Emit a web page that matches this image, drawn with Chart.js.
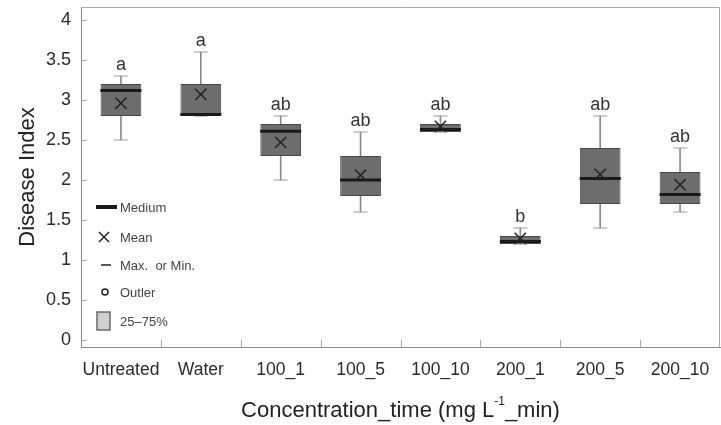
<!DOCTYPE html>
<html>
<head>
<meta charset="utf-8">
<script src="https://cdn.jsdelivr.net/npm/chart.js@4.4.1/dist/chart.umd.min.js"></script>
<style>
  html, body { margin: 0; padding: 0; background: #fff; }
  #wrap { width: 721px; height: 425px; }
</style>
</head>
<body>
<div id="wrap"><canvas id="chart" width="721" height="425"></canvas></div>
<script>
// box plot values
const categories = ['Untreated', 'Water', '100_1', '100_5', '100_10', '200_1', '200_5', '200_10'];
const maxValues    = [3.3, 3.6, 2.8, 2.6, 2.8, 1.4, 2.8, 2.4];
const q3Values     = [3.2, 3.2, 2.7, 2.3, 2.7, 1.3, 2.4, 2.1];
const medianValues = [3.12, 2.82, 2.61, 2.0, 2.63, 1.23, 2.02, 1.82];
const q1Values     = [2.8, 2.8, 2.3, 1.8, 2.6, 1.2, 1.7, 1.7];
const minValues    = [2.5, 2.8, 2.0, 1.6, 2.6, 1.2, 1.4, 1.6];
const meanValues   = [2.96, 3.07, 2.47, 2.06, 2.67, 1.27, 2.07, 1.94];
const groupLetters = ['a', 'a', 'ab', 'ab', 'ab', 'b', 'ab', 'ab'];
const yTicks = [0, 0.5, 1, 1.5, 2, 2.5, 3, 3.5, 4];

const FONT = '"Liberation Sans", Arial, sans-serif';

// frame, inner tick marks, letters, legend and x title
const decorPlugin = {
    id: 'decor',
    beforeDatasetsDraw(chart) {
        const { ctx, chartArea: a, scales } = chart;
        ctx.save();
        ctx.strokeStyle = '#a8a8a8';
        ctx.lineWidth = 1;
        ctx.beginPath();
        ctx.moveTo(a.left, a.top + 0.5);
        ctx.lineTo(a.right - 0.5, a.top + 0.5);
        ctx.lineTo(a.right - 0.5, a.bottom);
        ctx.stroke();

        // y ticks pointing inward
        ctx.beginPath();
        yTicks.forEach(v => {
            const y = Math.round(scales.y.getPixelForValue(v)) + 0.5;
            ctx.moveTo(a.left, y);
            ctx.lineTo(a.left + 6, y);
        });
        // x separators between categories
        for (let i = 0; i < categories.length - 1; i++) {
            const x = Math.round((scales.x.getPixelForValue(i) + scales.x.getPixelForValue(i + 1)) / 2) + 0.5;
            ctx.moveTo(x, a.bottom);
            ctx.lineTo(x, a.bottom - 7);
        }
        ctx.stroke();
        ctx.restore();
    },
    afterDatasetsDraw(chart) {
        const { ctx, scales } = chart;
        ctx.save();
        ctx.fillStyle = '#333';
        ctx.font = '18px ' + FONT;
        ctx.textAlign = 'center';
        ctx.textBaseline = 'alphabetic';
        groupLetters.forEach((t, i) => {
            ctx.fillText(t, scales.x.getPixelForValue(i), scales.y.getPixelForValue(maxValues[i]) - 6);
        });
        ctx.restore();
    },
    afterDraw(chart) {
        const { ctx, chartArea: a } = chart;
        ctx.save();
        // legend inside the plot
        const lx = a.left + 15, tx = a.left + 39;
        ctx.font = '13px ' + FONT;
        ctx.fillStyle = '#444';
        ctx.textBaseline = 'middle';
        ctx.textAlign = 'left';
        const rows = [207, 237, 265, 292, 321];
        ['Medium', 'Mean', 'Max.  or Min.', 'Outler', '25\u201375%'].forEach((t, i) => {
            ctx.fillText(t, tx, rows[i] + 1);
        });
        ctx.strokeStyle = '#1a1a1a';
        ctx.lineWidth = 4;
        ctx.beginPath(); ctx.moveTo(lx, rows[0]); ctx.lineTo(lx + 21, rows[0]); ctx.stroke();
        ctx.lineWidth = 1.5;
        ctx.strokeStyle = '#222';
        ctx.beginPath();
        ctx.moveTo(lx + 3, rows[1] - 5); ctx.lineTo(lx + 13, rows[1] + 5);
        ctx.moveTo(lx + 13, rows[1] - 5); ctx.lineTo(lx + 3, rows[1] + 5);
        ctx.stroke();
        ctx.lineWidth = 1.5;
        ctx.beginPath(); ctx.moveTo(lx + 5, rows[2]); ctx.lineTo(lx + 15, rows[2]); ctx.stroke();
        ctx.beginPath(); ctx.arc(lx + 9, rows[3], 3, 0, Math.PI * 2); ctx.stroke();
        ctx.fillStyle = '#cfcfcf';
        ctx.strokeStyle = '#6a6a6a';
        ctx.lineWidth = 1.5;
        ctx.fillRect(lx + 1, rows[4] - 9, 13, 18);
        ctx.strokeRect(lx + 1, rows[4] - 9, 13, 18);

        // x axis title with superscript
        const cx = (a.left + a.right) / 2, ty = 411;
        const p1 = 'Concentration_time (mg L', sup = '-1', p2 = '_min)';
        ctx.fillStyle = '#222';
        ctx.font = '22px ' + FONT;
        const w1 = ctx.measureText(p1).width, w3 = ctx.measureText(p2).width;
        ctx.font = '12px ' + FONT;
        const w2 = ctx.measureText(sup).width;
        let x = cx - (w1 + w2 + w3) / 2;
        ctx.font = '22px ' + FONT;
        ctx.fillText(p1, x, ty);
        ctx.font = '12px ' + FONT;
        ctx.fillText(sup, x + w1, ty - 9);
        ctx.font = '22px ' + FONT;
        ctx.fillText(p2, x + w1 + w2, ty);
        ctx.restore();
    }
};

const pointSet = (data, style, radius, width, color, order) => ({
    type: 'line',
    data,
    showLine: false,
    pointStyle: style,
    pointRadius: radius,
    pointBorderWidth: width,
    pointBorderColor: color,
    pointBackgroundColor: color,
    order
});

const noPad = s => { s.paddingTop = 0; s.paddingBottom = 0; s.paddingLeft = 0; s.paddingRight = 0; };

new Chart(document.getElementById('chart'), {
    type: 'bar',
    data: {
        labels: categories,
        datasets: [
            {
                // whiskers
                data: minValues.map((v, i) => [v, maxValues[i]]),
                backgroundColor: '#8a8a8a',
                barThickness: 1,
                grouped: false,
                order: 6
            },
            {
                // 25-75% box
                data: q1Values.map((v, i) => [v, q3Values[i]]),
                backgroundColor: '#6d6d6d',
                borderColor: '#474747',
                borderWidth: 1,
                borderSkipped: false,
                barPercentage: 0.51,
                categoryPercentage: 1,
                grouped: false,
                order: 5
            },
            pointSet(maxValues, 'line', 7, 1, '#9a9a9a', 4),
            pointSet(minValues, 'line', 7, 1, '#9a9a9a', 4),
            pointSet(medianValues, 'line', 20.5, 3, '#1a1a1a', 3),
            pointSet(meanValues, 'crossRot', 8, 1.5, '#222', 1)
        ]
    },
    options: {
        responsive: false,
        devicePixelRatio: 1,
        animation: false,
        events: [],
        layout: { autoPadding: false, padding: { top: 7, right: 1, left: 0, bottom: 0 } },
        plugins: { legend: { display: false }, tooltip: { enabled: false } },
        scales: {
            x: {
                grid: { display: false, drawTicks: false },
                border: { color: '#8a8a8a' },
                ticks: { color: '#2b2b2b', font: { family: FONT, size: 17.5 }, padding: 13, maxRotation: 0, autoSkip: false },
                afterFit: s => { s.height = 78; noPad(s); }
            },
            y: {
                min: -0.0875,
                max: 4.1625,
                afterBuildTicks: s => { s.ticks = yTicks.map(v => ({ value: v })); },
                grid: { display: false, drawTicks: false },
                border: { color: '#8a8a8a' },
                ticks: { color: '#2b2b2b', font: { family: FONT, size: 18 }, padding: 10, callback: v => String(v) },
                title: {
                    display: true,
                    text: 'Disease Index',
                    color: '#222',
                    font: { family: FONT, size: 22 },
                    padding: { top: 15, bottom: 0 }
                },
                afterFit: s => { s.width = 81; noPad(s); }
            }
        }
    },
    plugins: [decorPlugin]
});
</script>
</body>
</html>
